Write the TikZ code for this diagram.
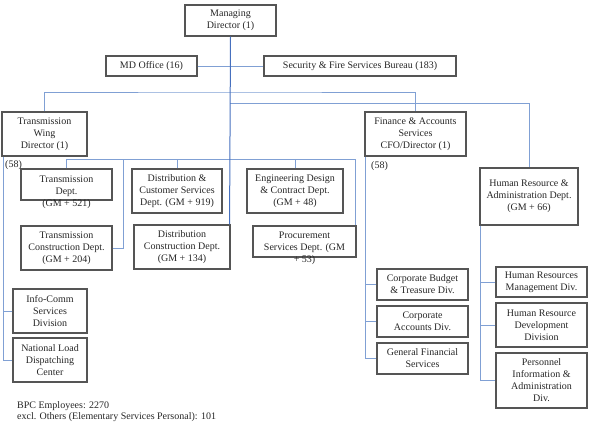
\documentclass[tikz,border=0pt]{standalone}
\usepackage{fontspec}
\setmainfont{Liberation Serif}
\definecolor{linkblue}{RGB}{128,160,212}
\definecolor{mainblue}{RGB}{70,112,190}
\definecolor{boxgray}{RGB}{85,85,85}
\begin{document}
\begin{tikzpicture}[x=1pt,y=-1pt,
	box/.style={draw=boxgray, line width=1.1pt, inner sep=0pt, align=center, text=black!85,
		font=\fontsize{10}{12}\selectfont},
	link/.style={draw=linkblue, line width=0.9pt},
	lbl/.style={inner sep=0pt, text=black!85, font=\fontsize{10}{12}\selectfont}]
	\useasboundingbox (0,0) rectangle (596,427);
	% top level
	\node[box, minimum width=91, minimum height=31] (md) at (230.5,20.5) {Managing\\Director (1)};
	\node[box, minimum width=91, minimum height=20] (mdo) at (151.5,66) {MD Office (16)};
	\node[box, minimum width=192, minimum height=20] (sec) at (360,66) {Security \& Fire Services Bureau (183)};
	% wings
	\node[box, minimum width=85, minimum height=44] (tw) at (44.5,134) {Transmission\\Wing\\Director (1)};
	\node[box, minimum width=101, minimum height=44] (fin) at (415.5,134) {Finance \& Accounts\\Services\\CFO/Director (1)};
	\node[box, minimum width=98, minimum height=57] (hr) at (529,196.5) {Human Resource \&\\Administration Dept.\\(GM + 66)};
	\node[lbl] (twcount) at (13.5,165) {(58)};
	\node[lbl] (fincount) at (379.5,166) {(58)};
	% departments
	\node[box, minimum width=91, minimum height=31] (td) at (66.5,184.5) {};
	\node[lbl, align=center] (tdtext) at (66.5,192) {Transmission\\Dept.\\(GM + 521)};
	\node[box, minimum width=90, minimum height=44] (dcs) at (177,191) {Distribution \&\\Customer Services\\Dept. (GM + 919)};
	\node[box, minimum width=96, minimum height=44] (eng) at (295,191) {Engineering Design\\\& Contract Dept.\\(GM + 48)};
	\node[box, minimum width=91, minimum height=44] (tcd) at (66.5,248) {Transmission\\Construction Dept.\\(GM + 204)};
	\node[box, minimum width=96, minimum height=44] (dcd) at (182,247) {Distribution\\Construction Dept.\\(GM + 134)};
	\node[box, minimum width=103, minimum height=31] (proc) at (304.5,241.5) {};
	\node[lbl, align=center] (proctext) at (304.5,248) {Procurement\\Services Dept. (GM\\+ 53)};
	% divisions
	\node[box, minimum width=74, minimum height=44] (ics) at (50,311) {Info-Comm\\Services\\Division};
	\node[box, minimum width=74, minimum height=44] (nld) at (50,360) {National Load\\Dispatching\\Center};
	\node[box, minimum width=91, minimum height=31] (bud) at (422.5,284.5) {Corporate Budget\\\& Treasure Div.};
	\node[box, minimum width=91, minimum height=31] (acc) at (422.5,321.5) {Corporate\\Accounts Div.};
	\node[box, minimum width=91, minimum height=31] (gen) at (422.5,358.5) {General Financial\\Services};
	\node[box, minimum width=91, minimum height=30] (hrm) at (541.5,282) {Human Resources\\Management Div.};
	\node[box, minimum width=91, minimum height=44] (hrd) at (541.5,325) {Human Resource\\Development\\Division};
	\node[box, minimum width=91, minimum height=55] (pia) at (541.5,380.5) {Personnel\\Information \&\\Administration\\Div.};
	% note
	\node[lbl, anchor=north west, align=left, font=\fontsize{10}{11}\selectfont] (note) at (17,401)
		{BPC Employees: 2270\\excl. Others (Elementary Services Personal): 101};
	% connectors
	\coordinate (bus1) at (230,92);
	\coordinate (bus2) at (230,103);
	\coordinate (bus3) at (66.5,159);
	\coordinate (tcdjoin) at (123,159);
	\coordinate (twrail) at ([xshift=1.5]tw.south west);
	\coordinate (finrail) at ([xshift=1]fin.south west);
	\coordinate (hrrail) at ([xshift=1]hr.south west);
	\coordinate (procjoin) at ([xshift=-1.5]proc.north east);
	\draw[link] (mdo) -- (sec);
	\draw[link] (tw.north) |- (bus1) -| (fin.north);
	\draw[link] (bus2) -| (hr.north);
	\draw[link] (td.north) |- (procjoin |- bus3) -- (procjoin);
	\draw[link] (dcs.north) -- (dcs.north |- bus3);
	\draw[link] (eng.north) -- (eng.north |- bus3);
	\draw[link] (tcd.east) -| (tcdjoin);
	\draw[link] (twrail) |- (nld.west);
	\draw[link] (ics.west) -- (ics.west -| twrail);
	\draw[link] (finrail) |- (gen.west);
	\draw[link] (bud.west) -- (bud.west -| finrail);
	\draw[link] (acc.west) -- (acc.west -| finrail);
	\draw[link] (hrrail) |- (pia.west);
	\draw[link] (hrm.west) -- (hrm.west -| hrrail);
	\draw[link] (hrd.west) -- (hrd.west -| hrrail);
	\draw[mainblue, line width=1pt] (md.south) -- ([xshift=-1]dcd.north east);
\end{tikzpicture}
\end{document}
